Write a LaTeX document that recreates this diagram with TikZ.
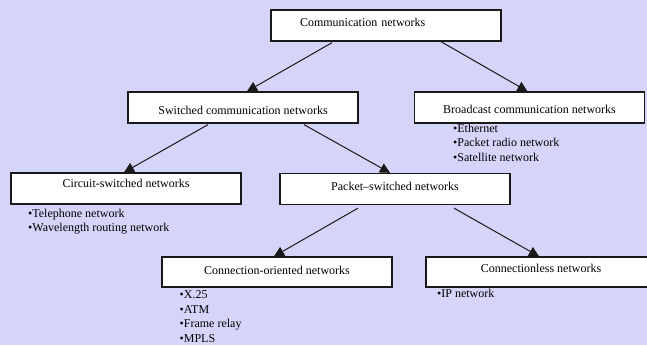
\documentclass[tikz,border=0pt]{standalone}
\usepackage{fontspec}
\setmainfont{Liberation Serif}
\usetikzlibrary{arrows.meta,calc}
\definecolor{lavbg}{RGB}{213,213,250}
\definecolor{boxline}{RGB}{25,25,25}

\begin{document}
\begin{tikzpicture}[x=1pt,y=-1pt,
      netbox/.style={draw=boxline,line width=1.3pt,fill=white,minimum width=230pt,minimum height=31pt,
                     inner sep=0pt,text height=8.5pt,text depth=2.5pt,font=\fontsize{12}{14}\selectfont},
      items/.style={anchor=north west,inner sep=0pt,align=left,font=\fontsize{12}{14.5}\selectfont},
      link/.style={-{Triangle[length=10pt,width=10pt]},line width=1pt,boxline}]
  \useasboundingbox (0,0) rectangle (647,345);
  \fill[lavbg] (0,0) rectangle (647,345);
  % boxes
  \node[netbox,text width=172pt,inner xsep=29pt,align=left,text depth=5.5pt] (comm) at (386,25.5) {Communication networks};
  \node[netbox,text height=15.5pt] (switched) at (243,107.5) {Switched communication networks};
  \node[netbox,text height=13.5pt] (broadcast) at (529.5,107.5) {Broadcast communication networks};
  \node[netbox,text depth=11.5pt] (circuit) at (126,188.5) {Circuit-switched networks};
  \node[netbox,text depth=6.5pt] (packet) at (395,189) {Packet--switched networks};
  \node[netbox,minimum height=30pt,text depth=4.5pt] (connor) at (277,272) {Connection-oriented networks};
  \node[netbox,minimum height=30pt,text depth=8.5pt] (connless) at (541,272) {Connectionless networks};
  % examples
  \node[items] (bclist) at (453,123.5) {\textbullet Ethernet\\\textbullet Packet radio network\\\textbullet Satellite network};
  \node[items] (cslist) at (28,208.5) {\textbullet Telephone network\\\textbullet Wavelength routing network};
  \node[items] (colist) at (179.5,290.5) {\textbullet X.25\\\textbullet ATM\\\textbullet Frame relay\\\textbullet MPLS};
  \node[items] (cllist) at (437,288.5) {\textbullet IP network};
  % arrows
  \draw[link] ($(comm.south)+(-54,1)$) -- ($(switched.north)+(4,0)$);
  \draw[link] ($(comm.south)+(55,0)$) -- ($(broadcast.north)+(-2,0)$);
  \draw[link] ($(switched.south)+(-35,1)$) -- ($(circuit.north)+(-2,0)$);
  \draw[link] ($(switched.south)+(61,1)$) -- ($(packet.north)+(-5,0)$);
  \draw[link] ($(packet.south)+(-37,3)$) -- ($(connor.north)+(-3,0)$);
  \draw[link] ($(packet.south)+(59,3)$) -- ($(connless.north)+(-2,0)$);
\end{tikzpicture}
\end{document}
